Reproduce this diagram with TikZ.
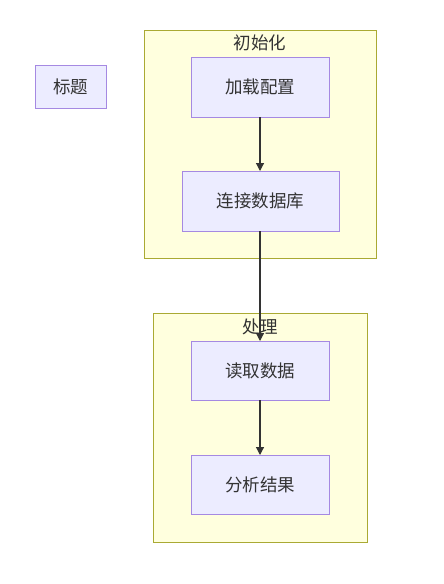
\documentclass[tikz,border=0pt]{standalone}
\usepackage{fontspec}
\newfontfamily\cjk{Noto Sans CJK SC}
\usetikzlibrary{arrows.meta}
\definecolor{nodefill}{HTML}{ECECFF}
\definecolor{nodedraw}{HTML}{9370DB}
\definecolor{clfill}{HTML}{FFFFDE}
\definecolor{cldraw}{HTML}{AAAA33}
\definecolor{txt}{HTML}{333333}
\tikzset{
  px/.style={x=1pt,y=-1pt},
  nodebox/.style={draw=nodedraw!80!nodefill,fill=nodefill,line width=1pt},
  nodetext/.style={text=txt,font=\cjk\fontsize{17.5}{20}\selectfont},
  clusterbox/.style={draw=cldraw,fill=clfill,line width=1pt},
  cltitle/.style={text=txt,font=\cjk\fontsize{17.5}{20}\selectfont,inner sep=0pt},
  flow/.style={draw=txt,line width=1.2pt,-{Triangle[length=8pt,width=8pt]}}
}
\begin{document}
\begin{tikzpicture}[px]
\useasboundingbox (0,0) rectangle (444,584);
\fill[white] (0,0) rectangle (444,584);
% clusters
\draw[clusterbox] (144,30) rectangle (376,258);
\node[cltitle] (t1) at (260,43) {初始化};
\draw[clusterbox] (153,313) rectangle (367,542);
% nodes
\path[nodebox] (191,57) rectangle (329,117);
\node[nodetext] (a) at (260,87) {加载配置};
\coordinate (aS) at (260,117);
\path[nodebox] (182,171) rectangle (339,231);
\node[nodetext] (b) at (260.5,201) {连接数据库};
\coordinate (bN) at (260,171);
\coordinate (bS) at (260,231);
\path[nodebox] (191,341) rectangle (329,400);
\node[nodetext] (c) at (260,370.5) {读取数据};
\coordinate (cN) at (260,341);
\coordinate (cS) at (260,400);
\path[nodebox] (191,455) rectangle (329,514);
\node[nodetext] (d) at (260,484.5) {分析结果};
\coordinate (dN) at (260,455);
\path[nodebox] (35,65) rectangle (106,108);
\node[nodetext] (e) at (70.5,86.5) {标题};
\node[cltitle] (t2) at (260,327) {处理};
% edges
\draw[flow] (aS) -- (bN);
\draw[flow] (bS) -- (cN);
\draw[flow] (cS) -- (dN);
\end{tikzpicture}
\end{document}
